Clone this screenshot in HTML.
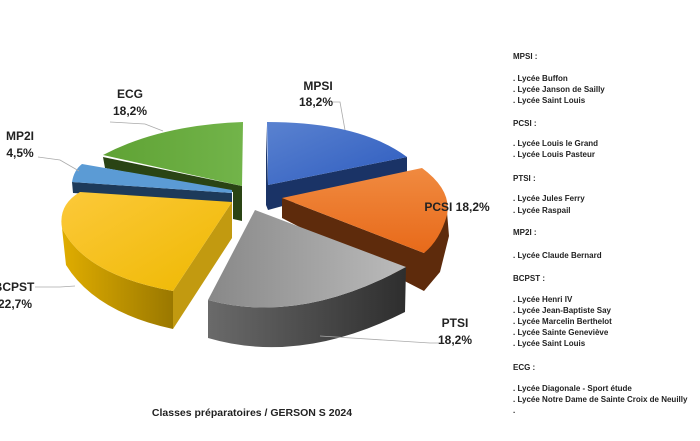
<!DOCTYPE html>
<html><head><meta charset="utf-8"><style>
html,body{margin:0;padding:0;background:#fff;}
svg{display:block;font-family:"Liberation Sans",sans-serif;}
</style></head><body>
<svg width="700" height="441" viewBox="0 0 700 441" xmlns="http://www.w3.org/2000/svg">
<defs>
<linearGradient id="gy" x1="0" y1="0" x2="1" y2="0"><stop offset="0" stop-color="#888"/><stop offset="1" stop-color="#bbb"/></linearGradient>
<linearGradient id="gyside" x1="0" y1="0" x2="1" y2="0"><stop offset="0" stop-color="#6a6a6a"/><stop offset="1" stop-color="#2e2e2e"/></linearGradient>
<linearGradient id="yl" x1="0" y1="0" x2="1" y2="1"><stop offset="0" stop-color="#fcc93a"/><stop offset="1" stop-color="#eeb800"/></linearGradient>
<linearGradient id="ylside" x1="0" y1="0" x2="1" y2="0"><stop offset="0" stop-color="#e0ad00"/><stop offset="1" stop-color="#9a7800"/></linearGradient>
<linearGradient id="bl" x1="0" y1="0" x2="1" y2="1"><stop offset="0" stop-color="#5a82d0"/><stop offset="1" stop-color="#2e5cbf"/></linearGradient>
<linearGradient id="or" x1="0" y1="0" x2="0" y2="1"><stop offset="0" stop-color="#f08a40"/><stop offset="1" stop-color="#e86a1a"/></linearGradient>
<linearGradient id="gr" x1="0" y1="0" x2="1" y2="0"><stop offset="0" stop-color="#5fa234"/><stop offset="1" stop-color="#72b44a"/></linearGradient>
</defs>

<!-- ECG -->
<path d="M103,157 L242,186 L242,221 L233,219 L233,192 L105,168 Z" fill="#2a4414"/>
<path d="M242,186 L243,122 Q160,125 103,155 Z" fill="url(#gr)"/>

<!-- MPSI -->
<path d="M268,185 L407,157 L407,172 L268,210 Z" fill="#1a3366"/>
<path d="M266,125 L268,185 L268,210 L266,205 Z" fill="#1a3366"/>
<path d="M268,185 L267,122 Q360,122 407,157 Z" fill="url(#bl)"/>

<!-- PCSI -->
<path d="M282,198 L282,218 L424,291 L440,272 L449,236 L447,212 L424,253 Z" fill="#5e2b0c"/>
<path d="M282,198 L422,168 Q452,190 447,215 Q440,240 424,253 Z" fill="url(#or)"/>

<!-- MP2I -->
<path d="M72,182 L232,193 L232,203 L73,193 Z" fill="#1d3a5a"/>
<path d="M72,182 Q74,170 82,164 L232,190 L232,193 Z" fill="#5b9bd5"/>

<!-- BCPST -->
<path d="M62,228 Q85,275 173,291 L173,329 Q95,312 66,265 Z" fill="url(#ylside)"/>
<path d="M232,202 L173,291 L173,329 L232,238 Z" fill="#c29a10"/>
<path d="M232,202 L80,192 Q58,205 62,228 Q85,275 173,291 Z" fill="url(#yl)"/>

<!-- PTSI -->
<path d="M208,300 Q300,325 406,267 L405,312 Q300,365 208,338 Z" fill="url(#gyside)"/>
<path d="M255,210 L208,300 Q300,325 406,267 Z" fill="url(#gy)"/>

<!-- leader lines -->
<g stroke="#aaa" stroke-width="0.8" fill="none">
<polyline points="333,102 340,102 345,130"/>
<polyline points="110,122 145,124 163,131"/>
<polyline points="38,157 60,160 79,171"/>
<polyline points="35,287 60,287 75,286"/>
<polyline points="320,336 430,343 440,343"/>
</g>

<g font-weight="bold" font-size="12" fill="#222" text-anchor="middle">
<text x="318" y="90">MPSI</text><text x="316" y="106">18,2%</text>
<text x="130" y="98">ECG</text><text x="130" y="115">18,2%</text>
<text x="20" y="140">MP2I</text><text x="20" y="157">4,5%</text>
<text x="14" y="291">BCPST</text><text x="15" y="308">22,7%</text>
<text x="457" y="211">PCSI 18,2%</text>
<text x="455" y="327">PTSI</text><text x="455" y="344">18,2%</text>
<text x="252" y="416" font-size="10.5">Classes préparatoires / GERSON S 2024</text>
</g>

<g font-weight="bold" font-size="8" fill="#222">
<text x="513" y="59">MPSI :</text>
<text x="513" y="81">. Lycée Buffon</text>
<text x="513" y="92">. Lycée Janson de Sailly</text>
<text x="513" y="103">. Lycée Saint Louis</text>
<text x="513" y="126">PCSI :</text>
<text x="513" y="146">. Lycée Louis le Grand</text>
<text x="513" y="157">. Lycée Louis Pasteur</text>
<text x="513" y="181">PTSI :</text>
<text x="513" y="201">. Lycée Jules Ferry</text>
<text x="513" y="213">. Lycée Raspail</text>
<text x="513" y="235">MP2I :</text>
<text x="513" y="258">. Lycée Claude Bernard</text>
<text x="513" y="281">BCPST :</text>
<text x="513" y="302">. Lycée Henri IV</text>
<text x="513" y="313">. Lycée Jean-Baptiste Say</text>
<text x="513" y="324">. Lycée Marcelin Berthelot</text>
<text x="513" y="335">. Lycée Sainte Geneviève</text>
<text x="513" y="346">. Lycée Saint Louis</text>
<text x="513" y="370">ECG :</text>
<text x="513" y="391">. Lycée Diagonale - Sport étude</text>
<text x="513" y="402">. Lycée Notre Dame de Sainte Croix de Neuilly</text>
<text x="513" y="413">.</text>
</g>
</svg>
</body></html>
